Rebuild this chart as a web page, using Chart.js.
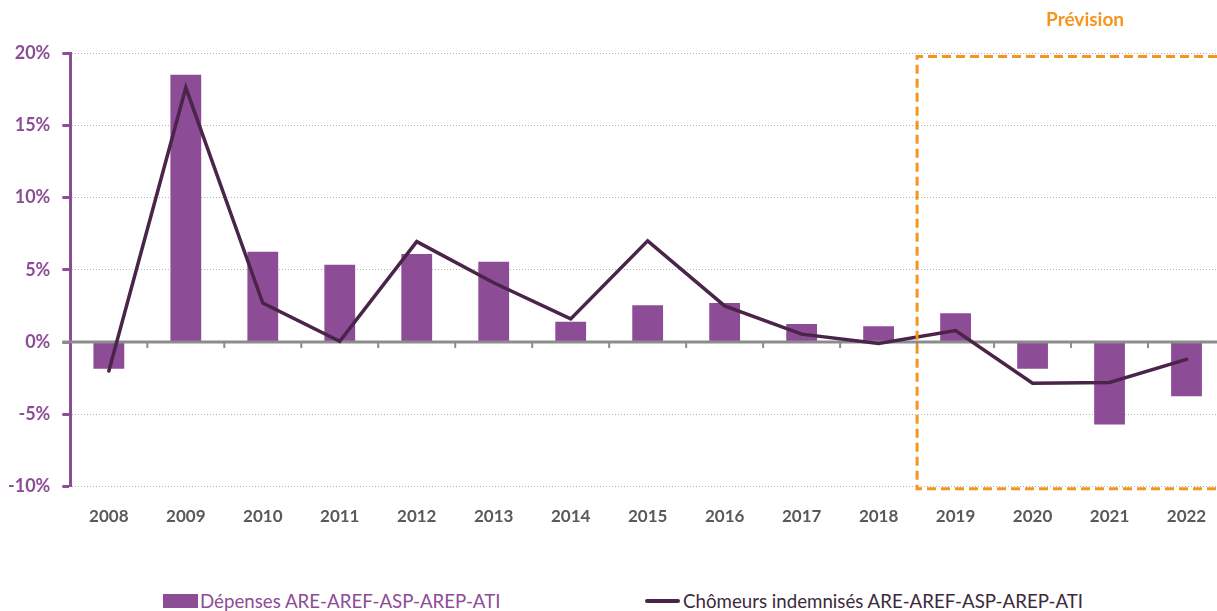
<!DOCTYPE html>
<html>
<head>
<meta charset="utf-8">
<script src="https://cdn.jsdelivr.net/npm/chart.js@4.4.0/dist/chart.umd.min.js"></script>
<style>
  body { margin: 0; overflow: hidden; background: #fff; font-family: Lato, sans-serif; }
  #cadre { position: absolute; left: -4px; top: 0; width: 1229px; height: 553px; }
  .legende { position: absolute; top: 590px; display: flex; align-items: center; font-size: 18.7px; white-space: nowrap; }
  .carre { width: 35px; height: 14px; background: #8d4c96; margin-right: 2px; }
  .trait { width: 35px; height: 4px; background: #4a2449; margin-right: 3px; border-radius: 2px; }
</style>
</head>
<body>
<div id="cadre"><canvas id="chart" width="1229" height="553"></canvas></div>
<div class="legende" style="left:163px; color:#8d4c96;"><div class="carre"></div>Dépenses ARE-AREF-ASP-AREP-ATI</div>
<div class="legende" style="left:645px; color:#3c2a3c;"><div class="trait"></div>Chômeurs indemnisés ARE-AREF-ASP-AREP-ATI</div>
<script>
const annees = ['2008', '2009', '2010', '2011', '2012', '2013', '2014', '2015', '2016', '2017', '2018', '2019', '2020', '2021', '2022'];
const depenses = [-1.85, 18.5, 6.25, 5.35, 6.1, 5.55, 1.4, 2.55, 2.7, 1.25, 1.1, 2.0, -1.85, -5.7, -3.75];
const chomeurs = [-2.0, 17.6, 2.7, 0.05, 6.95, 4.1, 1.6, 7.0, 2.5, 0.55, -0.1, 0.8, -2.85, -2.8, -1.2];
const ticksY = [-10, -5, 0, 5, 10, 15, 20];
const debutPrevision = 11; // 2019
const violet = '#8d4c96';
const orange = '#f7941d';

// ligne du zero + petites graduations, dessinée juste après les barres
const ligneZero = {
  id: 'ligneZero',
  afterDatasetDraw(chart, args) {
    if (args.index !== 0) return;
    const ctx = chart.ctx;
    const x = chart.scales.x, y = chart.scales.y;
    const y0 = y.getPixelForValue(0);
    const pas = x.getPixelForValue(1) - x.getPixelForValue(0);
    ctx.save();
    ctx.strokeStyle = '#8c8c8c';
    ctx.lineWidth = 3;
    ctx.beginPath();
    ctx.moveTo(chart.chartArea.left - 8, y0);
    ctx.lineTo(chart.chartArea.right, y0);
    ctx.stroke();
    ctx.lineWidth = 2;
    for (let i = 0; i < annees.length; i++) {
      const xb = x.getPixelForValue(i) + pas / 2;
      ctx.beginPath();
      ctx.moveTo(xb, y0);
      ctx.lineTo(xb, y0 + 6);
      ctx.stroke();
    }
    ctx.restore();
  }
};

// cadre orange de la prévision
const cadrePrevision = {
  id: 'cadrePrevision',
  afterDatasetsDraw(chart) {
    const ctx = chart.ctx;
    const x = chart.scales.x, y = chart.scales.y;
    const gauche = (x.getPixelForValue(debutPrevision - 1) + x.getPixelForValue(debutPrevision)) / 2;
    const haut = y.getPixelForValue(19.75);
    const bas = y.getPixelForValue(-10.15);
    const droite = chart.chartArea.right + 20;
    ctx.save();
    ctx.strokeStyle = orange;
    ctx.lineWidth = 3;
    ctx.setLineDash([9, 5]);
    ctx.beginPath();
    ctx.moveTo(droite, haut);
    ctx.lineTo(gauche, haut);
    ctx.lineTo(gauche, bas);
    ctx.lineTo(droite, bas);
    ctx.stroke();
    ctx.setLineDash([]);
    ctx.fillStyle = orange;
    ctx.font = 'bold 19px Lato';
    ctx.textAlign = 'center';
    ctx.textBaseline = 'middle';
    ctx.fillText('Prévision', (x.getPixelForValue(13) + x.getPixelForValue(12)) / 2 + 14, 20);
    ctx.restore();
  }
};

const ctx = document.getElementById('chart');
new Chart(ctx, {
  type: 'bar',
  data: {
    labels: annees,
    datasets: [{
      type: 'bar',
      label: 'Dépenses ARE-AREF-ASP-AREP-ATI',
      data: depenses,
      backgroundColor: violet,
      barPercentage: 0.4,
      categoryPercentage: 1,
      order: 2
    }, {
      type: 'line',
      label: 'Chômeurs indemnisés ARE-AREF-ASP-AREP-ATI',
      data: chomeurs,
      borderColor: '#4a2449',
      borderWidth: 3.5,
      pointRadius: 0,
      tension: 0,
      borderCapStyle: 'round',
      order: 1
    }]
  },
  options: {
    responsive: false,
    animation: false,
    devicePixelRatio: 1,
    layout: {
      padding: { top: 53, left: 0, right: 0, bottom: 14 }
    },
    plugins: {
      legend: { display: false },
      tooltip: { enabled: false }
    },
    scales: {
      x: {
        grid: { display: false },
        border: { display: false },
        ticks: { color: '#595959', font: { family: 'Lato', size: 17, weight: 'bold' }, padding: 12, maxRotation: 0 }
      },
      y: {
        min: -10,
        max: 20,
        afterBuildTicks: s => { s.ticks = ticksY.map(v => ({ value: v })); },
        ticks: {
          color: violet,
          font: { family: 'Lato', size: 18, weight: 'bold' },
          padding: 12,
          callback: v => v + '%'
        },
        grid: {
          color: c => c.tick && c.tick.value === 0 ? 'rgba(0,0,0,0)' : '#b5b5b5',
          lineWidth: 1,
          tickLength: 8,
          tickWidth: 3,
          tickColor: c => c.tick && c.tick.value === 0 ? '#8c8c8c' : violet,
          tickBorderDash: []
        },
        border: { color: violet, width: 3, dash: [1, 2] }
      }
    }
  },
  plugins: [ligneZero, cadrePrevision]
});
</script>
</body>
</html>
